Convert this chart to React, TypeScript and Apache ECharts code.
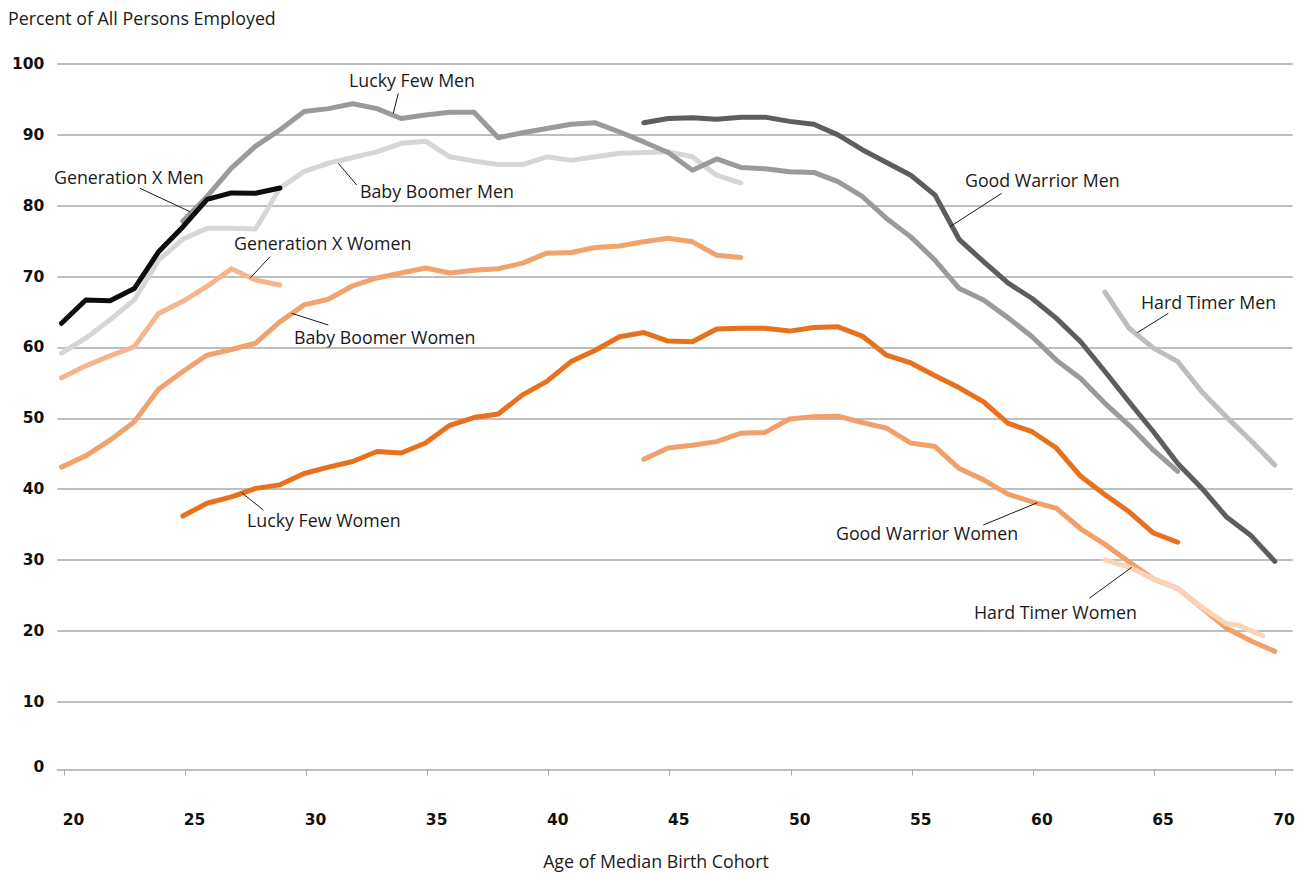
import React, { useEffect, useRef } from "react";
import * as echarts from "echarts";

// ---------- data (age of median birth cohort -> % of all persons employed) ----------
const tickAges = [20, 25, 30, 35, 40, 45, 50, 55, 60, 65, 70];

const genXMenStart = 20;
const genXMen = [63.4, 66.7, 66.6, 68.3, 73.5, 77.0, 80.9, 81.8, 81.75, 82.5];

const babyBoomerMenStart = 20;
const babyBoomerMen = [
  59.2, 61.3, 63.9, 66.7, 72.3, 75.3, 76.8, 76.8, 76.7, 82.5, 84.8, 86.0, 86.8, 87.6, 88.8,
  89.1, 86.9, 86.3, 85.8, 85.8, 86.9, 86.4, 86.9, 87.4, 87.5, 87.6, 86.9, 84.3, 83.2,
];

const luckyFewMenStart = 25;
const luckyFewMen = [
  77.8, 81.3, 85.3, 88.4, 90.7, 93.3, 93.7, 94.4, 93.7, 92.3, 92.8, 93.2, 93.2, 89.6, 90.3,
  90.9, 91.5, 91.7, 90.4, 89.0, 87.5, 85.0, 86.6, 85.4, 85.2, 84.8, 84.7, 83.4, 81.3, 78.2,
  75.6, 72.3, 68.3, 66.7, 64.2, 61.5, 58.2, 55.6, 52.1, 49.0, 45.5, 42.5,
];

const goodWarriorMenStart = 44;
const goodWarriorMen = [
  91.7, 92.3, 92.4, 92.2, 92.5, 92.5, 91.9, 91.5, 90.0, 87.9, 86.1, 84.3, 81.5, 75.2, 72.1,
  69.1, 66.9, 64.1, 60.8, 56.6, 52.3, 48.1, 43.6, 40.1, 36.1, 33.5, 29.8,
];

const hardTimerMenStart = 63;
const hardTimerMen = [67.8, 62.7, 59.9, 58.0, 53.7, 50.2, 46.9, 43.4];

const genXWomenStart = 20;
const genXWomen = [55.7, 57.4, 58.8, 60.1, 64.8, 66.5, 68.6, 71.1, 69.5, 68.8];

const babyBoomerWomenStart = 20;
const babyBoomerWomen = [
  43.1, 44.7, 46.9, 49.5, 54.1, 56.6, 58.9, 59.7, 60.6, 63.6, 66.0, 66.8, 68.7, 69.8, 70.5,
  71.2, 70.5, 70.9, 71.1, 71.9, 73.3, 73.4, 74.1, 74.3, 74.9, 75.4, 74.9, 73.0, 72.7,
];

const luckyFewWomenStart = 25;
const luckyFewWomen = [
  36.2, 38.0, 38.9, 40.1, 40.6, 42.2, 43.1, 43.9, 45.3, 45.1, 46.5, 49.0, 50.1, 50.6, 53.3,
  55.2, 58.0, 59.6, 61.5, 62.1, 60.9, 60.8, 62.6, 62.7, 62.7, 62.3, 62.8, 62.9, 61.6, 58.9,
  57.8, 56.0, 54.3, 52.3, 49.3, 48.1, 45.8, 41.8, 39.2, 36.8, 33.8, 32.5,
];

const goodWarriorWomenStart = 44;
const goodWarriorWomen = [
  44.2, 45.8, 46.2, 46.7, 47.9, 48.0, 49.9, 50.2, 50.3, 49.4, 48.6, 46.5, 46.0, 42.9, 41.3,
  39.3, 38.2, 37.3, 34.4, 32.2, 29.7, 27.3, 26.0, 23.2, 20.4, 18.6, 17.1,
];

const hardTimerWomenAges = [63, 64, 65, 66, 67, 68, 68.5, 69.5];
const hardTimerWomen = [30.0, 29.0, 27.3, 26.0, 23.3, 21.0, 20.8, 19.3];

// ---------- helpers ----------
const fromStart = (start: number, vals: number[]) => vals.map((v, i) => [start + i, v]);
const fromAges = (ages: number[], vals: number[]) => vals.map((v, i) => [ages[i], v]);

const TEXT_FONT = "'Open Sans', Lato, sans-serif";
const TEXT_SIZE = 17.8;
const NUM_FONT = "'DejaVu Sans', sans-serif";
const GRID_COLOR = "#a9a9a9";

export default function App() {
  const ref = useRef<HTMLDivElement>(null);

  useEffect(() => {
    if (!ref.current) return;
    const chart = echarts.init(ref.current, undefined, { renderer: "svg" });

    const line = (name: string, data: number[][], color: string, z: number) => ({
      name,
      type: "line",
      xAxisIndex: 0,
      yAxisIndex: 0,
      data,
      symbol: "none",
      showSymbol: false,
      silent: true,
      z,
      lineStyle: { color, width: 5, cap: "round", join: "round" },
    });

    const label = (text: string, x: number, y: number, align = "left") => ({
      type: "text",
      x,
      y,
      silent: true,
      style: {
        text,
        fill: "#1a1a1a",
        font: `${TEXT_SIZE}px ${TEXT_FONT}`,
        align,
        verticalAlign: "middle",
        textAlign: align,
        textVerticalAlign: "middle",
      },
    });
    const leader = (x1: number, y1: number, x2: number, y2: number) => ({
      type: "line",
      silent: true,
      shape: { x1, y1, x2, y2 },
      style: { stroke: "#1a1a1a", lineWidth: 1 },
      z: 100,
    });

    chart.setOption({
      animation: false,
      backgroundColor: "#ffffff",
      grid: { left: 57.3, right: 10.3, top: 64, bottom: 101.5, containLabel: false },
      xAxis: [
        {
          type: "value",
          min: 19.827,
          max: 70.738,
          position: "bottom",
          show: true,
          axisLine: { show: false },
          axisTick: { show: false },
          axisLabel: { show: false },
          splitLine: { show: false },
        },
        {
          type: "value",
          min: 19.703,
          max: 70.731,
          position: "bottom",
          offset: -3,
          axisLine: { show: true, onZero: false, lineStyle: { color: GRID_COLOR, width: 1.5 } },
          axisTick: {
            show: true,
            length: 6,
            customValues: tickAges,
            lineStyle: { color: GRID_COLOR, width: 1 },
          },
          axisLabel: {
            show: true,
            customValues: tickAges,
            margin: 42,
            padding: [0, 0, 0, 18],
            color: "#111",
            fontFamily: NUM_FONT,
            fontWeight: "bold",
            fontSize: 15.5,
          },
          splitLine: { show: false },
        },
      ],
      yAxis: {
        type: "value",
        min: 0,
        max: 100,
        interval: 10,
        axisLine: { show: false },
        axisTick: { show: false },
        axisLabel: {
          margin: 13,
          color: "#111",
          fontFamily: NUM_FONT,
          fontWeight: "bold",
          fontSize: 15.5,
          formatter: (v: number) => (v === 0 ? "{z|0}" : String(v)),
          rich: {
            z: {
              fontFamily: NUM_FONT,
              fontWeight: "bold",
              fontSize: 15.5,
              color: "#111",
              padding: [0, 0, 12, 0],
            },
          },
        },
        splitLine: {
          show: true,
          showMinLine: false,
          lineStyle: { color: GRID_COLOR, width: 1.5 },
        },
      },
      series: [
        line("Baby Boomer Men", fromStart(babyBoomerMenStart, babyBoomerMen), "#d6d6d6", 2),
        line("Lucky Few Men", fromStart(luckyFewMenStart, luckyFewMen), "#9a9a9d", 3),
        line("Good Warrior Men", fromStart(goodWarriorMenStart, goodWarriorMen), "#5d5d60", 4),
        line("Hard Timer Men", fromStart(hardTimerMenStart, hardTimerMen), "#bdbdbf", 5),
        line("Generation X Men", fromStart(genXMenStart, genXMen), "#0d0d0d", 6),
        line("Baby Boomer Women", fromStart(babyBoomerWomenStart, babyBoomerWomen), "#f1a36e", 2),
        line("Generation X Women", fromStart(genXWomenStart, genXWomen), "#f6b68d", 3),
        line("Lucky Few Women", fromStart(luckyFewWomenStart, luckyFewWomen), "#e8711e", 4),
        line("Good Warrior Women", fromStart(goodWarriorWomenStart, goodWarriorWomen), "#f1a06b", 5),
        line("Hard Timer Women", fromAges(hardTimerWomenAges, hardTimerWomen), "#fad3b9", 6),
      ],
      graphic: [
        label("Percent of All Persons Employed", 8, 18),
        label("Age of Median Birth Cohort", 656, 861, "center"),
        label("Lucky Few Men", 349, 80),
        leader(398.3, 93.3, 393.3, 113.3),
        label("Baby Boomer Men", 360, 191),
        leader(338.3, 163.3, 356.7, 185),
        label("Generation X Men", 54, 177),
        leader(140, 188.3, 190, 211.7),
        label("Generation X Women", 234, 243),
        leader(270, 256.7, 250, 278.3),
        label("Baby Boomer Women", 294, 337),
        leader(291.7, 313.3, 328.3, 325),
        label("Lucky Few Women", 247, 520),
        leader(241.7, 492.7, 263.3, 510),
        label("Good Warrior Men", 965, 180),
        leader(1001.7, 193.3, 950, 226.7),
        label("Hard Timer Men", 1141, 302),
        leader(1168.3, 313.3, 1137.3, 332.7),
        label("Good Warrior Women", 836, 533),
        leader(983.3, 525, 1037.3, 502.7),
        label("Hard Timer Women", 974, 612),
        leader(1089.3, 598.3, 1131.7, 567.3),
      ],
    });

    return () => chart.dispose();
  }, []);

  return (
    <div
      ref={ref}
      style={{ position: "absolute", left: 0, top: 0, width: 1303, height: 874, background: "#fff" }}
    />
  );
}
